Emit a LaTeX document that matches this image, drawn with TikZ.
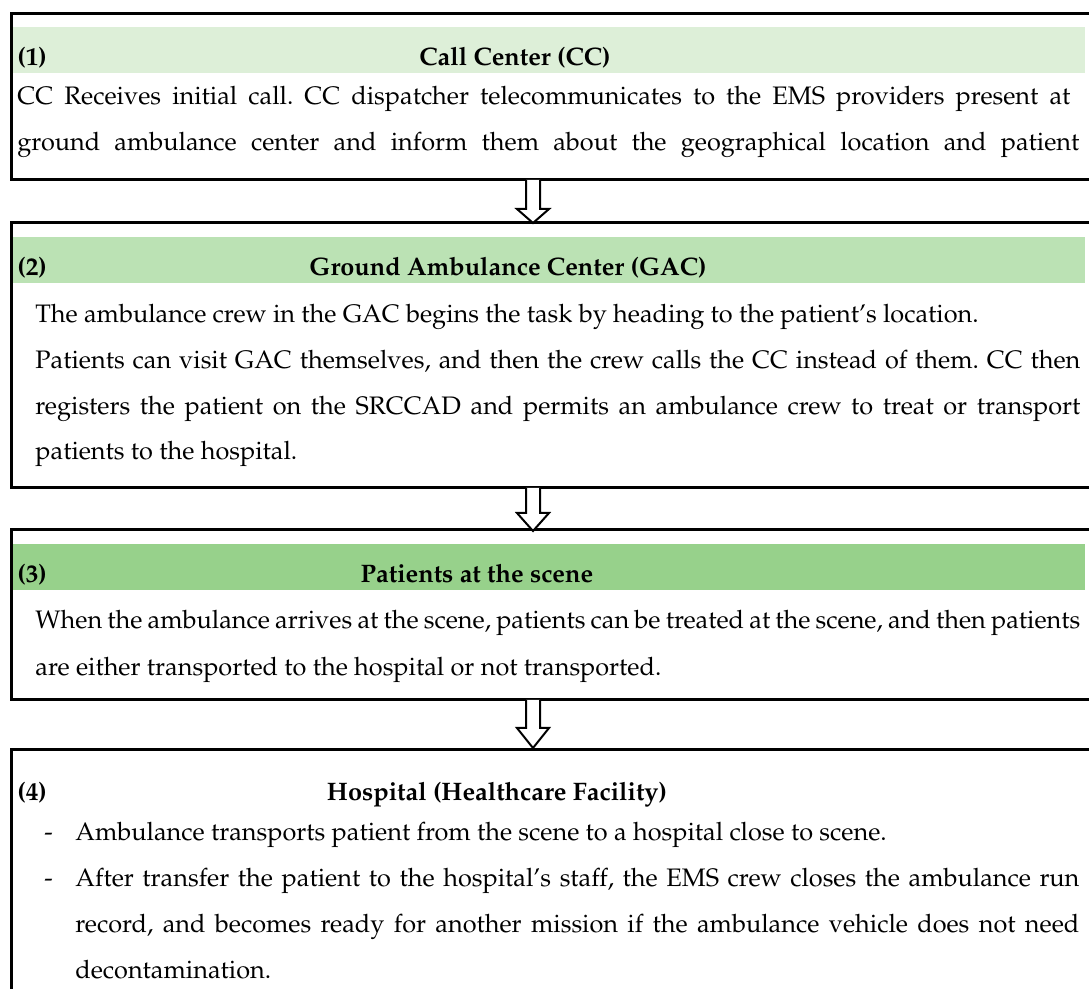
\documentclass[tikz,border=0pt]{standalone}
\usepackage[T1]{fontenc}
\usepackage{mathpazo}
\usetikzlibrary{calc}
\frenchspacing
\definecolor{hdrA}{HTML}{DDEFD8}
\definecolor{hdrB}{HTML}{BBE2B4}
\definecolor{hdrC}{HTML}{97D18B}
\newcommand{\hollowarrow}[3]{%
  \draw[arrowline] ($(#1)+(-7,0)$) -- ($(#2)+(-7,-#3)$) -- ($(#2)+(-16,-#3)$) -- (#2)
    -- ($(#2)+(16,-#3)$) -- ($(#2)+(7,-#3)$) -- ($(#1)+(7,0)$);}
\begin{document}
\begin{tikzpicture}[x=0.5pt,y=-0.5pt,
  boxline/.style={draw=black,line width=1.5pt},
  arrowline/.style={draw=black,fill=white,line width=1pt,line join=miter},
  txt/.style={anchor=base west,inner sep=0pt,font=\fontsize{12.65}{15}\selectfont\frenchspacing},
  num/.style={anchor=base west,inner sep=0pt,font=\fontsize{12.65}{15}\selectfont\bfseries},
  ttl/.style={anchor=base,inner sep=0pt,font=\fontsize{12.65}{15}\selectfont\bfseries}]
\useasboundingbox (0,0) rectangle (1089,989);
\clip (0,0) rectangle (1089,989);
\fill[white] (0,0) rectangle (1089,989);

% header bars
\fill[hdrA] (13,27) rectangle (1085,73);
\fill[hdrB] (13,237) rectangle (1085,283);
\fill[hdrC] (13,544) rectangle (1085,590);

% boxes
\draw[boxline] (11,14) rectangle (1110,180);
\draw[boxline] (11,223) rectangle (1110,488);
\draw[boxline] (11,530) rectangle (1110,700);
\draw[boxline] (11,750) rectangle (1110,1010);

% arrows
\coordinate (a1s) at (533,180); \coordinate (a1e) at (533,223);
\coordinate (a2s) at (533,488); \coordinate (a2e) at (533,531);
\coordinate (a3s) at (533,700); \coordinate (a3e) at (533,748);
\hollowarrow{a1s}{a1e}{14}
\hollowarrow{a2s}{a2e}{18}
\hollowarrow{a3s}{a3e}{20}

% box 1
\node[num] (n1) at (17,66) {(1)};
\node[ttl] (t1) at (515,66) {Call Center (CC)};
\node[txt] (l11) at (17,105) {\makebox[526.5pt][s]{CC Receives initial call. CC dispatcher telecommunicates to the EMS providers present at}};
\node[txt] (l12) at (17,151) {\makebox[531pt][s]{ground ambulance center and inform them about the geographical location and patient}};

% box 2
\node[num] (n2) at (17,276) {(2)};
\node[ttl] (t2) at (508,276) {Ground Ambulance Center (GAC)};
\node[txt] (l21) at (35,323) {The ambulance crew in the GAC begins the task by heading to the patient's location.};
\node[txt] (l22) at (35,369) {\makebox[522.5pt][s]{Patients can visit GAC themselves, and then the crew calls the CC instead of them. CC then}};
\node[txt] (l23) at (35,415) {\makebox[522.5pt][s]{registers the patient on the SRCCAD and permits an ambulance crew to treat or transport}};
\node[txt] (l24) at (35,460) {patients to the hospital.};

% box 3
\node[num] (n3) at (17,583) {(3)};
\node[ttl] (t3) at (477,583) {Patients at the scene};
\node[txt] (l31) at (35,629) {\makebox[522.5pt][s]{When the ambulance arrives at the scene, patients can be treated at the scene, and then patients}};
\node[txt] (l32) at (35,676) {are either transported to the hospital or not transported.};

% box 4
\node[num] (n4) at (17,801) {(4)};
\node[ttl] (t4) at (497,801) {Hospital (Healthcare Facility)};
\node[txt] (d41) at (44,841) {-};
\node[txt] (l41) at (75,841) {Ambulance transports patient from the scene to a hospital close to scene.};
\node[txt] (d42) at (44,887) {-};
\node[txt] (l42) at (75,887) {\makebox[502pt][s]{After transfer the patient to the hospital's staff, the EMS crew closes the ambulance run}};
\node[txt] (l43) at (75,933) {\makebox[502pt][s]{record, and becomes ready for another mission if the ambulance vehicle does not need}};
\node[txt] (l44) at (75,979) {decontamination.};
\end{tikzpicture}
\end{document}
